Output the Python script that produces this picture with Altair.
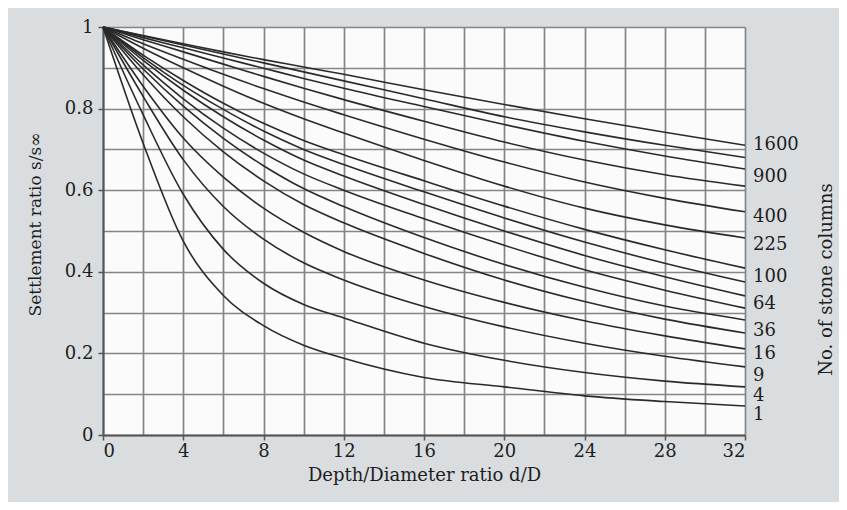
import altair as alt
import pandas as pd

# Depth/Diameter ratio d/D sample positions
x_pts = [0, 2, 4, 6, 8, 10, 12, 16, 20, 24, 28, 32]

# Settlement ratio s/s_inf, one list per number of columns
s_1    = [1, 0.715, 0.475, 0.342, 0.268, 0.220, 0.188, 0.141, 0.118, 0.096, 0.082, 0.071]
s_4    = [1, 0.785, 0.590, 0.455, 0.372, 0.320, 0.287, 0.225, 0.183, 0.153, 0.132, 0.118]
s_9    = [1, 0.830, 0.675, 0.560, 0.480, 0.422, 0.380, 0.315, 0.265, 0.225, 0.193, 0.167]
s_16   = [1, 0.855, 0.728, 0.632, 0.556, 0.497, 0.450, 0.380, 0.325, 0.280, 0.243, 0.211]
s_25   = [1, 0.883, 0.780, 0.694, 0.623, 0.565, 0.520, 0.445, 0.380, 0.327, 0.284, 0.250]
s_36   = [1, 0.897, 0.806, 0.727, 0.660, 0.604, 0.560, 0.484, 0.418, 0.362, 0.316, 0.282]
s_49   = [1, 0.907, 0.824, 0.752, 0.691, 0.640, 0.600, 0.530, 0.465, 0.405, 0.355, 0.311]
s_64   = [1, 0.918, 0.845, 0.780, 0.723, 0.674, 0.635, 0.565, 0.500, 0.440, 0.388, 0.341]
s_81   = [1, 0.925, 0.857, 0.798, 0.745, 0.700, 0.663, 0.596, 0.532, 0.473, 0.421, 0.375]
s_100  = [1, 0.931, 0.869, 0.813, 0.764, 0.722, 0.687, 0.623, 0.561, 0.504, 0.454, 0.409]
s_225  = [1, 0.948, 0.900, 0.855, 0.813, 0.775, 0.740, 0.673, 0.610, 0.556, 0.515, 0.483]
s_400  = [1, 0.959, 0.921, 0.884, 0.849, 0.816, 0.785, 0.725, 0.669, 0.620, 0.580, 0.547]
s_625  = [1, 0.969, 0.939, 0.909, 0.879, 0.850, 0.822, 0.769, 0.718, 0.674, 0.638, 0.610]
s_900  = [1, 0.974, 0.949, 0.924, 0.899, 0.874, 0.850, 0.805, 0.761, 0.720, 0.684, 0.652]
s_1225 = [1, 0.978, 0.956, 0.934, 0.912, 0.890, 0.868, 0.824, 0.780, 0.743, 0.710, 0.680]
s_1600 = [1, 0.979, 0.959, 0.939, 0.920, 0.902, 0.884, 0.846, 0.810, 0.775, 0.742, 0.710]

series = {
    1: s_1, 4: s_4, 9: s_9, 16: s_16, 25: s_25, 36: s_36, 49: s_49, 64: s_64,
    81: s_81, 100: s_100, 225: s_225, 400: s_400, 625: s_625, 900: s_900,
    1225: s_1225, 1600: s_1600,
}

# Right-hand labels (number of stone columns) and their vertical positions
label_text = ["1600", "900", "400", "225", "100", "64", "36", "16", "9", "4", "1"]
label_y = [0.711, 0.632, 0.534, 0.466, 0.387, 0.321, 0.255, 0.199, 0.145, 0.096, 0.049]
label_x = [32] * len(label_text)

x_ticks = [0, 2, 4, 6, 8, 10, 12, 14, 16, 18, 20, 22, 24, 26, 28, 30, 32]
y_ticks = [0, 0.1, 0.2, 0.3, 0.4, 0.5, 0.6, 0.7, 0.8, 0.9, 1]

rows = []
for n, vals in series.items():
    for xv, yv in zip(x_pts, vals):
        rows.append({"n": n, "d": xv, "s": yv})
df = pd.DataFrame(rows)
lab = pd.DataFrame({"d": label_x, "s": label_y, "t": label_text})

FONT = "DejaVu Serif"
FS = 18
GRID = "#858585"
TXT = "#1e1e1e"

xscale = alt.Scale(domain=[0, 32], nice=False, zero=False)
yscale = alt.Scale(domain=[0, 1], nice=False)

lines = alt.Chart(df).mark_line(
    color="#2a2a2a", strokeWidth=1.6, interpolate="monotone"
).encode(
    x=alt.X("d:Q", scale=xscale, axis=alt.Axis(
        values=x_ticks, title="Depth/Diameter ratio d/D",
        labelExpr="datum.value % 4 === 0 ? datum.label : ''",
        tickOpacity={"condition": {"test": "datum.value % 4 === 0", "value": 1}, "value": 0},
        grid=True, gridColor=GRID, gridWidth=1.7, gridOpacity=1,
        domainColor="#555", domainWidth=2, tickColor="#555", tickWidth=1.5, tickSize=5,
        labelFont=FONT, labelFontSize=FS, labelColor=TXT, labelPadding=2,
        titleFont=FONT, titleFontSize=FS, titleFontWeight="normal", titleColor=TXT,
        titlePadding=6,
    )),
    y=alt.Y("s:Q", scale=yscale, axis=alt.Axis(
        values=y_ticks, title="Settlement ratio s/s∞",
        labelExpr="round(datum.value*10) % 2 === 0 ? format(datum.value, '~g') : ''",
        tickOpacity={"condition": {"test": "round(datum.value*10) % 2 === 0", "value": 1}, "value": 0},
        grid=True, gridColor=GRID, gridWidth=1.7, gridOpacity=1,
        domainColor="#555", domainWidth=2, tickColor="#555", tickWidth=1.5, tickSize=5,
        labelFont=FONT, labelFontSize=FS, labelColor=TXT, labelPadding=5,
        titleFont=FONT, titleFontSize=17, titleFontWeight="normal", titleColor=TXT,
        titlePadding=20, titleY=197,
    )),
    detail="n:N",
)

labels = alt.Chart(lab).mark_text(
    align="left", baseline="middle", dx=8, font=FONT, fontSize=FS, color=TXT
).encode(
    x=alt.X("d:Q", scale=xscale),
    y=alt.Y("s:Q", scale=yscale, axis=alt.Axis(
        orient="right", title="No. of stone columns", labels=False, ticks=False,
        domain=False, grid=False, titleAngle=270, titleX=81, titleY=252,
        titleAlign="center", titleBaseline="middle",
        titleFont=FONT, titleFontSize=FS, titleFontWeight="normal", titleColor=TXT,
    )),
    text="t:N",
)

chart = alt.layer(lines, labels).resolve_axis(y="independent").properties(
    width=642, height=408,
    autosize=alt.AutoSizeParams(type="none"),
    padding={"left": 95, "top": 19, "right": 94, "bottom": 67},
    background="#d9dde0",
).configure_view(fill="#fbfbfb", stroke=None)

chart.save("out.html", embed_options={"renderer": "svg", "actions": False})
